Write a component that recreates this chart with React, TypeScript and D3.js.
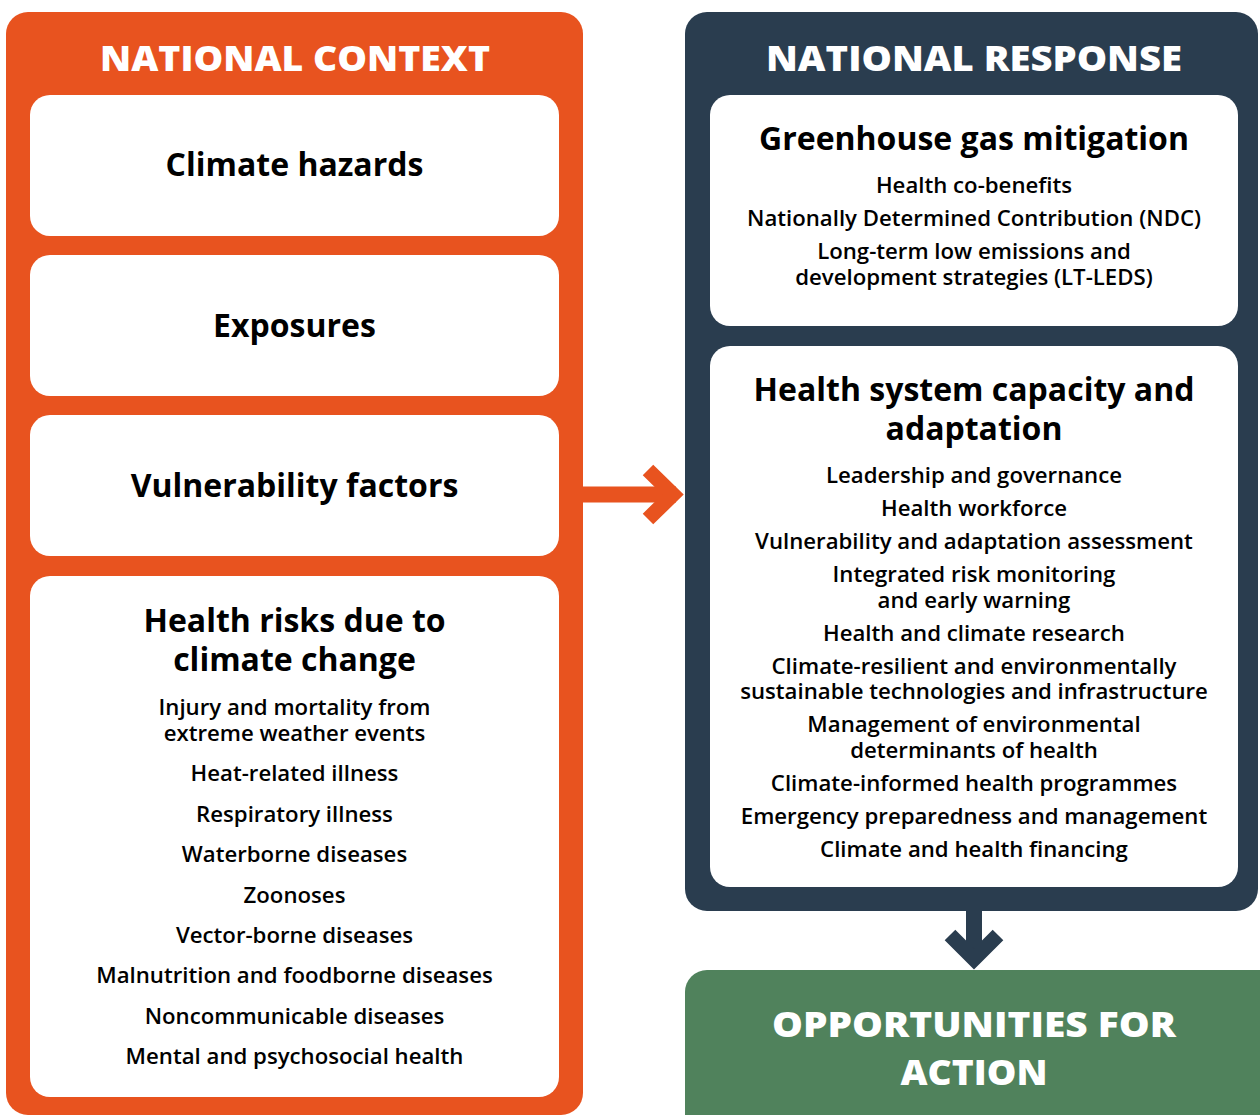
import React from "react";
import * as d3 from "d3";

// panel headers
const contextTitle = "NATIONAL CONTEXT";
const responseTitle = "NATIONAL RESPONSE";
const actionTitle = ["OPPORTUNITIES FOR", "ACTION"];

// left column boxes
const contextBoxes = ["Climate hazards", "Exposures", "Vulnerability factors"];
const healthRiskTitle = ["Health risks due to", "climate change"];
const healthRisks = [
  ["Injury and mortality from", "extreme weather events"],
  ["Heat-related illness"],
  ["Respiratory illness"],
  ["Waterborne diseases"],
  ["Zoonoses"],
  ["Vector-borne diseases"],
  ["Malnutrition and foodborne diseases"],
  ["Noncommunicable diseases"],
  ["Mental and psychosocial health"],
];

// right column boxes
const mitigationTitle = ["Greenhouse gas mitigation"];
const mitigationItems = [
  ["Health co-benefits"],
  ["Nationally Determined Contribution (NDC)"],
  ["Long-term low emissions and", "development strategies (LT-LEDS)"],
];
const adaptationTitle = ["Health system capacity and", "adaptation"];
const adaptationItems = [
  ["Leadership and governance"],
  ["Health workforce"],
  ["Vulnerability and adaptation assessment"],
  ["Integrated risk monitoring", "and early warning"],
  ["Health and climate research"],
  ["Climate-resilient and environmentally", "sustainable technologies and infrastructure"],
  ["Management of environmental", "determinants of health"],
  ["Climate-informed health programmes"],
  ["Emergency preparedness and management"],
  ["Climate and health financing"],
];

const ORANGE = "#E8531F";
const NAVY = "#2A3D4F";
const GREEN = "#50825C";
const FONT = "'Open Sans', sans-serif";

const W = 1260;
const H = 1115;

// lay out multi-line items: returns baselines for every line
function stackLines(items: string[][], start: number, lineGap: number, itemGap: number) {
  const out: { text: string; y: number }[] = [];
  let y = start;
  items.forEach((lines, i) => {
    if (i > 0) y += itemGap;
    lines.forEach((t, j) => {
      if (j > 0) y += lineGap;
      out.push({ text: t, y });
    });
  });
  return out;
}

function Box({ x, y, w, h }: { x: number; y: number; w: number; h: number }) {
  return <rect x={x} y={y} width={w} height={h} rx={20} fill="#fff" />;
}

export default function App() {
  const leftX = d3.scaleLinear().domain([0, 1]).range([30, 559]);
  const rightX = d3.scaleLinear().domain([0, 1]).range([710, 1238]);
  const lcx = leftX(0.5);
  const rcx = rightX(0.5);

  // small boxes on the left share one band scale
  const smallBand = d3.scaleBand<number>().domain([0, 1, 2]).range([95, 556]).paddingInner(0.119);

  const riskLines = stackLines(healthRisks, 715, 26, 40.4);
  const mitLines = stackLines(mitigationItems, 193, 26, 33);
  const adaLines = stackLines(adaptationItems, 483, 25.7, 33);

  const arrowRight = d3.line()([
    [583, 494.5],
    [676, 494.5],
  ]);
  const chevronRight = d3.line()([
    [648, 470],
    [673, 494.5],
    [648, 519],
  ]);
  const arrowDown = d3.line()([
    [974, 905],
    [974, 955],
  ]);
  const chevronDown = d3.line()([
    [950, 935],
    [974, 959],
    [998, 935],
  ]);

  const head = { fill: "#fff", fontFamily: FONT, fontWeight: 800, fontSize: 35, textAnchor: "middle" as const };
  const boxTitle = { fill: "#000", fontFamily: FONT, fontWeight: 700, fontSize: 32, textAnchor: "middle" as const };
  const item = { fill: "#000", fontFamily: FONT, fontWeight: 600, fontSize: 22.2, textAnchor: "middle" as const };

  return (
    <div style={{ position: "absolute", left: 0, top: 0 }}>
      <svg width={W} height={H} viewBox={`0 0 ${W} ${H}`} style={{ display: "block" }}>
        <rect width={W} height={H} fill="#fff" />

        {/* arrows */}
        <path d={arrowRight!} stroke={ORANGE} strokeWidth={16} fill="none" />
        <path d={chevronRight!} stroke={ORANGE} strokeWidth={15} fill="none" strokeLinejoin="miter" />
        <path d={arrowDown!} stroke={NAVY} strokeWidth={16} fill="none" />
        <path d={chevronDown!} stroke={NAVY} strokeWidth={15} fill="none" strokeLinejoin="miter" />

        {/* national context */}
        <rect x={6} y={12} width={577} height={1103} rx={22} fill={ORANGE} />
        <text {...head} x={295} y={71} textLength={390} lengthAdjust="spacingAndGlyphs">
          {contextTitle}
        </text>
        {contextBoxes.map((t, i) => {
          const y0 = smallBand(i)!;
          const bh = smallBand.bandwidth();
          return (
            <g key={t}>
              <Box x={leftX(0)} y={y0} w={leftX(1) - leftX(0)} h={bh} />
              <text {...boxTitle} x={lcx} y={y0 + bh / 2 + 11}>
                {t}
              </text>
            </g>
          );
        })}
        <Box x={leftX(0)} y={576} w={leftX(1) - leftX(0)} h={521} />
        {healthRiskTitle.map((t, i) => (
          <text key={t} {...boxTitle} x={lcx} y={632 + i * 39}>
            {t}
          </text>
        ))}
        {riskLines.map((l) => (
          <text key={l.text} {...item} x={lcx} y={l.y}>
            {l.text}
          </text>
        ))}

        {/* national response */}
        <rect x={685} y={12} width={573} height={899} rx={22} fill={NAVY} />
        <text {...head} x={974} y={71} textLength={416} lengthAdjust="spacingAndGlyphs">
          {responseTitle}
        </text>
        <Box x={rightX(0)} y={95} w={rightX(1) - rightX(0)} h={231} />
        {mitigationTitle.map((t) => (
          <text key={t} {...boxTitle} x={rcx} y={150}>
            {t}
          </text>
        ))}
        {mitLines.map((l) => (
          <text key={l.text} {...item} x={rcx} y={l.y}>
            {l.text}
          </text>
        ))}
        <Box x={rightX(0)} y={346} w={rightX(1) - rightX(0)} h={541} />
        {adaptationTitle.map((t, i) => (
          <text key={t} {...boxTitle} x={rcx} y={401 + i * 39}>
            {t}
          </text>
        ))}
        {adaLines.map((l) => (
          <text key={l.text} {...item} x={rcx} y={l.y}>
            {l.text}
          </text>
        ))}

        {/* opportunities */}
        <rect x={685} y={970} width={600} height={200} rx={22} fill={GREEN} />
        <text {...head} x={974} y={1037} textLength={404} lengthAdjust="spacingAndGlyphs">
          {actionTitle[0]}
        </text>
        <text {...head} x={974} y={1085} textLength={147} lengthAdjust="spacingAndGlyphs">
          {actionTitle[1]}
        </text>
      </svg>
    </div>
  );
}
